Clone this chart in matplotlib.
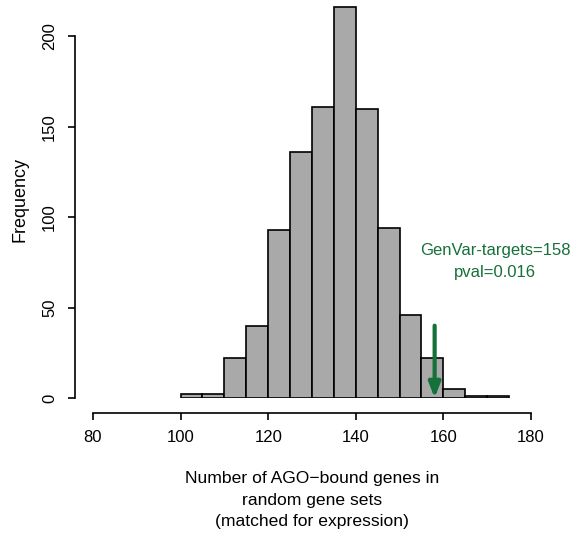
import matplotlib
matplotlib.use("Agg")
import matplotlib.pyplot as plt
import numpy as np

bin_edges = [100, 105, 110, 115, 120, 125, 130, 135, 140, 145, 150, 155, 160, 165, 170, 175]
counts = [2, 2, 22, 40, 93, 136, 161, 216, 160, 94, 46, 22, 5, 1, 1]
observed = 158
label_lines = ["GenVar-targets=158", "pval=0.016"]
xticks = [80, 100, 120, 140, 160, 180]
yticks = [0, 50, 100, 150, 200]

plt.rcParams['font.family'] = ['Liberation Sans', 'DejaVu Sans']
fig = plt.figure(figsize=(5.74, 5.4), dpi=100)
ax = fig.add_axes([93/574, (540-398)/540, 438/574, 398/540])

lefts = np.array(bin_edges[:-1])
widths = np.diff(bin_edges)
ax.bar(lefts, counts, width=widths, align='edge', color='#a9a9a9', edgecolor='black', linewidth=1.2)

ax.set_xlim(80, 180)
ax.set_ylim(0, 220)

px = 72 / 100  # points per pixel
for s in ['top', 'right']:
    ax.spines[s].set_visible(False)
ax.spines['left'].set_position(('outward', 18 * px))
ax.spines['bottom'].set_position(('outward', 15 * px))
ax.spines['left'].set_bounds(0, 200)
ax.spines['bottom'].set_bounds(80, 180)
ax.spines['left'].set_linewidth(1.2)
ax.spines['bottom'].set_linewidth(1.2)
ax.set_xticks(xticks)
ax.set_yticks(yticks)
ax.tick_params(labelsize=12, width=1.2, length=5, colors='black')
ax.tick_params(axis='x', pad=7)
ax.tick_params(axis='y', pad=8)
for lab in ax.get_yticklabels():
    lab.set_rotation(90)
    lab.set_va('center')

ax.set_ylabel("Frequency", fontsize=13, labelpad=10)
ax.set_xlabel("Number of AGO\u2212bound genes in\nrandom gene sets\n(matched for expression)",
              fontsize=12.6, labelpad=19, linespacing=1.55)

green = '#16703a'
ax.annotate('', xy=(observed, 0), xytext=(observed, 40),
            arrowprops=dict(arrowstyle='-|>,head_length=0.9,head_width=0.35', color=green, lw=3,
                            shrinkA=0, shrinkB=0))
ax.text(171.8, 81.8, label_lines[0], color=green, fontsize=12, ha='center', va='center')
ax.text(171.8, 69.6, label_lines[1], color=green, fontsize=12, ha='center', va='center')

fig.savefig('out.png', dpi=100)
